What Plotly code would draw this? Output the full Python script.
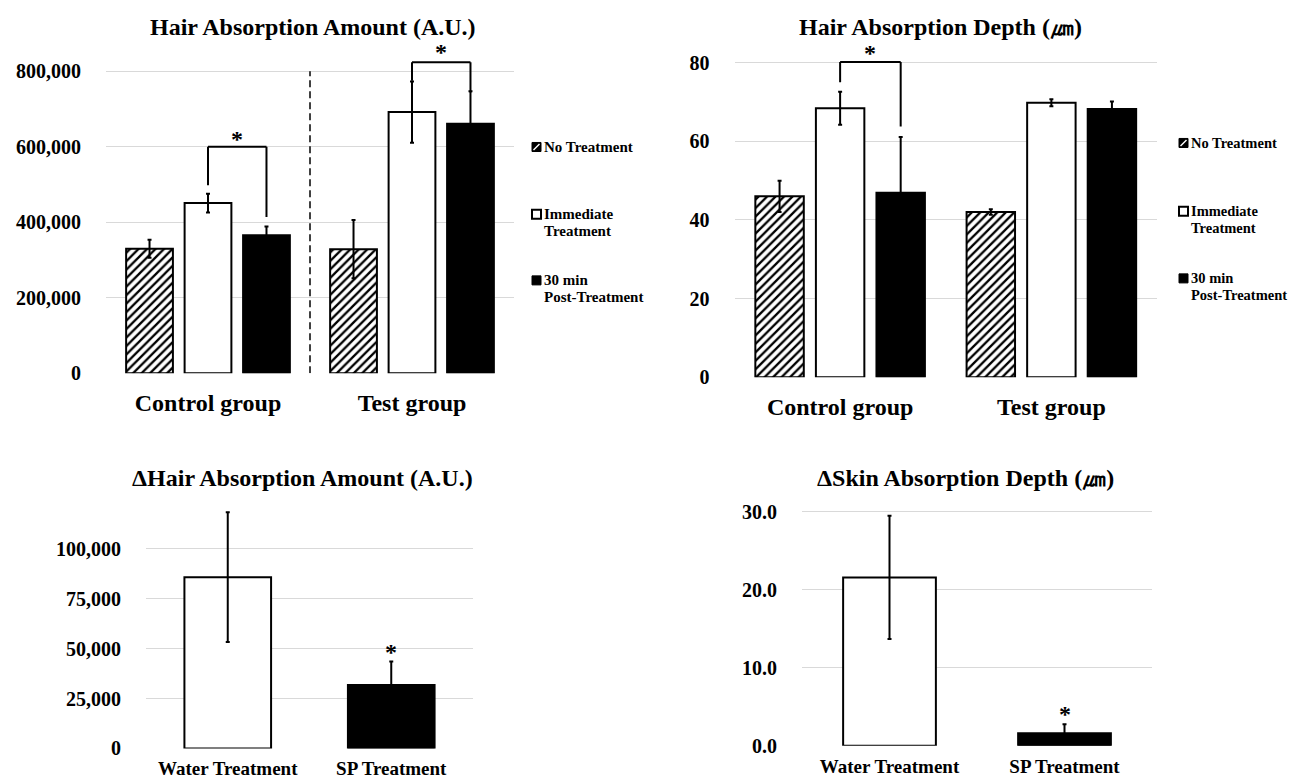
import plotly.graph_objects as go

W, H = 1296, 779

# ---------------- data ----------------
groups = ["Control group", "Test group"]
series_names = ["No Treatment", "Immediate Treatment", "30 min Post-Treatment"]

amount_no = [330000, 329000]
amount_imm = [451000, 692000]
amount_30 = [366000, 661000]
amount_no_err = [24000, 77000]
amount_imm_err = [25000, 81000]
amount_30_err = [23000, 86000]

depth_no = [46.0, 42.0]
depth_imm = [68.4, 69.8]
depth_30 = [46.9, 68.2]
depth_no_err = [4.0, 0.7]
depth_imm_err = [4.2, 0.9]
depth_30_err = [14.2, 1.9]

treatments = ["Water Treatment", "SP Treatment"]
delta_amount = [85800, 31800]
delta_amount_err = [32500, 11800]
delta_depth = [21.6, 1.6]
delta_depth_err = [7.9, 1.15]

# significance brackets: (group index, top, left leg end, right leg end, star y)
amount_brackets = [(0, 600000, 498000, 414000, 622000), (1, 824000, 775000, 744000, 850000)]
depth_brackets = [(0, 80.2, 75.05, 63.8, 82.4)]
delta_amount_star = (1, 48500)
delta_depth_star = (1, 4.1)

amount_ticks = [0, 200000, 400000, 600000, 800000]
depth_ticks = [0, 20, 40, 60, 80]
delta_amount_ticks = [0, 25000, 50000, 75000, 100000]
delta_depth_ticks = [0, 10, 20, 30]

# ---------------- style / layout ----------------
FONT = "Liberation Serif, Times New Roman, serif"
GRID = "#d9d9d9"
BARGAP = 0.14
BARGROUPGAP = 0.2
SLOT = (1 - BARGAP) / 3

# page-placement correction (reference pixel -> layout pixel)
OX, OY, SY = 8.0, 15.4, 0.974


def rx(x):
    return x - OX


def ry(y):
    return (y - OY) / SY


def xd(a, b):
    return [rx(a) / W, rx(b) / W]


def yd(top, bottom):
    return [1 - ry(bottom) / H, 1 - ry(top) / H]


def px(x):
    return rx(x) / W


def py(y):
    return 1 - ry(y) / H


styles = [
    dict(color="white", line=dict(color="black", width=2),
         pattern=dict(shape="/", fgcolor="black", bgcolor="white", size=6, solidity=0.38, fillmode="replace")),
    dict(color="white", line=dict(color="black", width=2)),
    dict(color="black", line=dict(color="black", width=2)),
]

fig = go.Figure()

amount_vals = [amount_no, amount_imm, amount_30]
amount_errs = [amount_no_err, amount_imm_err, amount_30_err]
depth_vals = [depth_no, depth_imm, depth_30]
depth_errs = [depth_no_err, depth_imm_err, depth_30_err]

for i, name in enumerate(series_names):
    fig.add_trace(go.Bar(
        x=groups, y=amount_vals[i], name=name, xaxis="x", yaxis="y",
        marker=styles[i],
        error_y=dict(type="data", array=amount_errs[i], color="black", thickness=2, width=2),
        showlegend=False))
for i, name in enumerate(series_names):
    fig.add_trace(go.Bar(
        x=groups, y=depth_vals[i], name=name, xaxis="x2", yaxis="y2",
        marker=styles[i],
        error_y=dict(type="data", array=depth_errs[i], color="black", thickness=2, width=2),
        showlegend=False))

fig.add_trace(go.Bar(
    x=treatments, y=delta_amount, xaxis="x3", yaxis="y3", width=0.53,
    marker=dict(color=["white", "black"], line=dict(color="black", width=2)),
    error_y=dict(type="data", array=delta_amount_err, color="black", thickness=2, width=2),
    showlegend=False))
fig.add_trace(go.Bar(
    x=treatments, y=delta_depth, xaxis="x4", yaxis="y4", width=0.53,
    marker=dict(color=["white", "black"], line=dict(color="black", width=2)),
    error_y=dict(type="data", array=delta_depth_err, color="black", thickness=2, width=2),
    showlegend=False))

shapes = []
annotations = []
STAR_FONT = dict(family=FONT, size=24, color="black", weight="bold")


def bracket(xref, yref, g, top, yl, yr, ys):
    x0 = g
    x1 = g + SLOT
    for (a, b, c, d) in [(x0, yl, x0, top), (x0, top, x1, top), (x1, top, x1, yr)]:
        shapes.append(dict(type="line", xref=xref, yref=yref, x0=a, y0=b, x1=c, y1=d,
                           line=dict(color="black", width=2)))
    annotations.append(dict(xref=xref, yref=yref, x=(x0 + x1) / 2, y=ys, text="*",
                            showarrow=False, yanchor="middle", font=STAR_FONT))


for b in amount_brackets:
    bracket("x", "y", *b)
for b in depth_brackets:
    bracket("x2", "y2", *b)

annotations.append(dict(xref="x3", yref="y3", x=delta_amount_star[0], y=delta_amount_star[1], text="*",
                        showarrow=False, yanchor="middle", font=STAR_FONT))
annotations.append(dict(xref="x4", yref="y4", x=delta_depth_star[0], y=delta_depth_star[1], text="*",
                        showarrow=False, yanchor="middle", font=STAR_FONT))

# dashed separator between groups
shapes.append(dict(type="line", xref="x", yref="y", x0=0.5, x1=0.5, y0=0, y1=amount_ticks[-1],
                   line=dict(color="black", width=1.5, dash="7px,4px")))

# titles
titles = [
    ("Hair Absorption Amount (A.U.)", 313, 27),
    ("Hair Absorption Depth (㎛)", 940, 27),
    ("ΔHair Absorption Amount (A.U.)", 302, 477),
    ("ΔSkin Absorption Depth (㎛)", 965, 477),
]
for t, x, y in titles:
    annotations.append(dict(xref="paper", yref="paper", x=px(x), y=py(y), text=t, showarrow=False,
                            xanchor="center", yanchor="middle",
                            font=dict(family=FONT, size=24, color="black", weight="bold")))


# custom legends
def legend(x_sq, x_txt, rows, size):
    s = 9
    for kind, lines, y in rows:
        x0, x1 = px(x_sq), px(x_sq + s)
        ytop, ybot = py(y - s / 2), py(y + s / 2)
        if kind == 0:
            shapes.append(dict(type="rect", xref="paper", yref="paper", x0=x0, x1=x1, y0=ybot, y1=ytop,
                               fillcolor="black", line=dict(color="black", width=1)))
            shapes.append(dict(type="line", xref="paper", yref="paper", x0=px(x_sq + 1.5), x1=px(x_sq + s - 1.5),
                               y0=py(y + s / 2 - 1.5), y1=py(y - s / 2 + 1.5),
                               line=dict(color="white", width=1.5)))
        elif kind == 1:
            shapes.append(dict(type="rect", xref="paper", yref="paper", x0=x0, x1=x1, y0=ybot, y1=ytop,
                               fillcolor="white", line=dict(color="black", width=2)))
        else:
            shapes.append(dict(type="rect", xref="paper", yref="paper", x0=x0, x1=x1, y0=ybot, y1=ytop,
                               fillcolor="black", line=dict(color="black", width=1)))
        for j, ln in enumerate(lines):
            annotations.append(dict(xref="paper", yref="paper", x=px(x_txt), y=py(y + 17 * j), text=ln,
                                    showarrow=False, xanchor="left", yanchor="middle",
                                    font=dict(family=FONT, size=size, color="black", weight="bold")))


legend_rows_l = [(0, ["No Treatment"], 147), (1, ["Immediate", "Treatment"], 214), (2, ["30 min", "Post-Treatment"], 280)]
legend_rows_r = [(0, ["No Treatment"], 143), (1, ["Immediate", "Treatment"], 211), (2, ["30 min", "Post-Treatment"], 278)]
legend(532, 542, legend_rows_l, 15)
legend(1179, 1189, legend_rows_r, 14.5)

tickfont_y = dict(family=FONT, size=20, color="black", weight="bold")
tickfont_x_top = dict(family=FONT, size=24, color="black", weight="bold")
tickfont_x_bot = dict(family=FONT, size=19, color="black", weight="bold")


def yaxis(domain, rng, ticks, fmt, anchor):
    return dict(domain=domain, range=rng, tickvals=ticks, tickformat=fmt, showgrid=True, gridcolor=GRID,
                gridwidth=1, zeroline=False, showline=False, ticks="", tickfont=tickfont_y,
                ticklabelstandoff=24, anchor=anchor, fixedrange=True)


def xaxis(domain, anchor, font, standoff):
    return dict(domain=domain, range=[-0.5, 1.5], type="category", showgrid=False, zeroline=False,
                showline=False, ticks="", tickfont=font, anchor=anchor, ticklabelstandoff=standoff,
                fixedrange=True)


fig.update_layout(
    width=W, height=H, margin=dict(l=0, r=0, t=0, b=0),
    paper_bgcolor="white", plot_bgcolor="white",
    barmode="group", bargap=BARGAP, bargroupgap=BARGROUPGAP,
    xaxis=xaxis(xd(106, 514), "y", tickfont_x_top, 13),
    yaxis=yaxis(yd(52.7, 372.7), [0, 850000], amount_ticks, ",d", "x"),
    xaxis2=xaxis(xd(734.5, 1157), "y2", tickfont_x_top, 13),
    yaxis2=yaxis(yd(51.2, 376.5), [0, 83], depth_ticks, "d", "x2"),
    xaxis3=xaxis(xd(146, 473), "y3", tickfont_x_bot, 7),
    yaxis3=yaxis(yd(507.9, 746.7), [0, 120000], delta_amount_ticks, ",d", "x3"),
    xaxis4=xaxis(xd(802, 1152), "y4", tickfont_x_bot, 7),
    yaxis4=yaxis(yd(507, 744), [0, 30.5], delta_depth_ticks, ".1f", "x4"),
    shapes=shapes, annotations=annotations,
    font=dict(family=FONT, color="black"),
)

fig.write_html("out.html")
